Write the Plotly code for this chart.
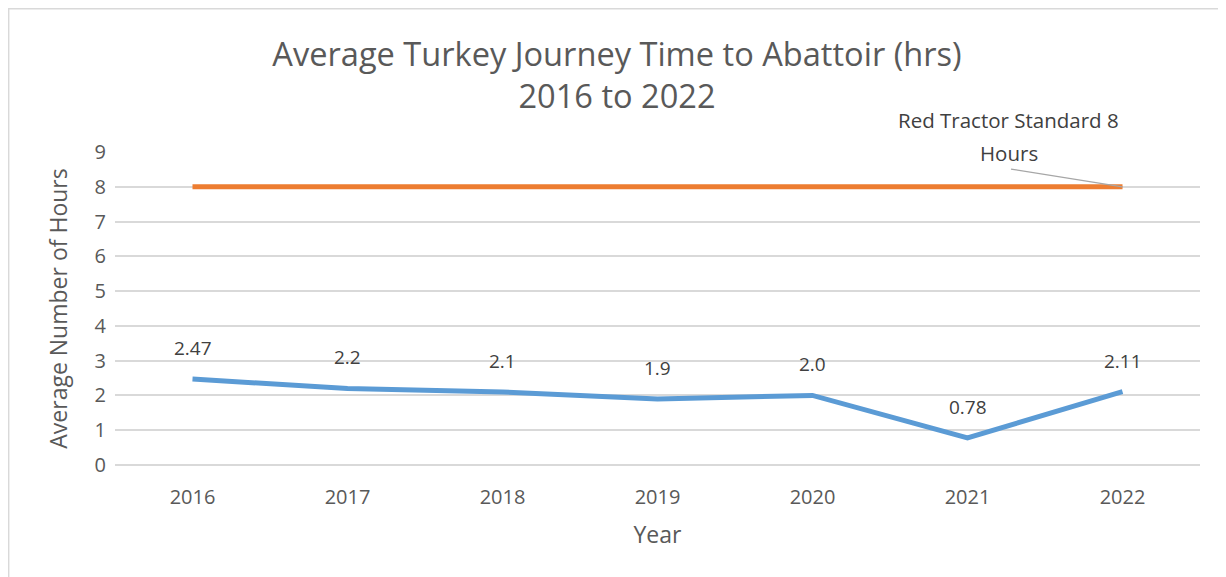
import plotly.graph_objects as go

years = ["2016", "2017", "2018", "2019", "2020", "2021", "2022"]
journey_hours = [2.47, 2.2, 2.1, 1.9, 2.0, 0.78, 2.11]
journey_labels = ["2.47", "2.2", "2.1", "1.9", "2.0", "0.78", "2.11"]
standard_hours = [8, 8, 8, 8, 8, 8, 8]
standard_label_lines = ["Red Tractor Standard 8", "Hours"]

FONT = "Open Sans"
GREY = "#595959"
LABEL = "#404040"

fig = go.Figure()

fig.add_trace(go.Scatter(
    x=years, y=standard_hours, mode="lines",
    line=dict(color="#ED7D31", width=5),
    showlegend=False, hoverinfo="skip",
))
fig.add_trace(go.Scatter(
    x=years, y=journey_hours, mode="lines",
    line=dict(color="#5B9BD5", width=5),
    showlegend=False,
))

# data labels above each point (category axis -> position by index)
for i, (val, lab) in enumerate(zip(journey_hours, journey_labels)):
    fig.add_annotation(x=i, y=val, text=lab, showarrow=False, yshift=31,
                       font=dict(family=FONT, size=19, color=LABEL))

# leader line + label for the standard
last = len(years) - 1
fig.add_annotation(x=last, y=standard_hours[-1], text="", showarrow=True,
                   arrowhead=0, arrowwidth=1.3, arrowcolor="#A6A6A6",
                   ax=-113, ay=-18, standoff=0)
for k, line_txt in enumerate(standard_label_lines):
    fig.add_annotation(x=last, y=standard_hours[-1], text=line_txt,
                       showarrow=False, xshift=-114, yshift=67 - 33 * k,
                       font=dict(family=FONT, size=20.5, color=LABEL))

# outer chart border
fig.add_shape(type="rect", xref="paper", yref="paper",
              x0=-0.098, x1=1.05, y0=-0.6, y1=1.458,
              line=dict(color="#D9D9D9", width=1.5), fillcolor="rgba(0,0,0,0)")

fig.update_layout(
    width=1218, height=569,
    margin=dict(l=107, r=26, t=144, b=112),
    paper_bgcolor="white", plot_bgcolor="white",
    font=dict(family=FONT, color=GREY),
    title=dict(text="Average Turkey Journey Time to Abattoir (hrs)<br>2016 to 2022",
               x=0.5, xanchor="center", y=0.898, yanchor="top",
               font=dict(family=FONT, size=32.6, color=GREY)),
    xaxis=dict(type="category", range=[-0.5, 6.5], showgrid=False,
               showline=False, ticks="", tickfont=dict(size=20, color=GREY),
               ticklabelstandoff=18,
               title=dict(text="Year", font=dict(size=23, color=GREY), standoff=17)),
    yaxis=dict(range=[0, 9], dtick=1, showgrid=True, gridcolor="#D9D9D9",
               gridwidth=1.5, zeroline=True, zerolinecolor="#D9D9D9",
               zerolinewidth=1.5, showline=False, ticks="",
               tickfont=dict(size=20, color=GREY), ticklabelstandoff=8,
               title=dict(text="Average Number of Hours",
                          font=dict(size=23, color=GREY), standoff=20)),
)

fig.write_html("out.html")
